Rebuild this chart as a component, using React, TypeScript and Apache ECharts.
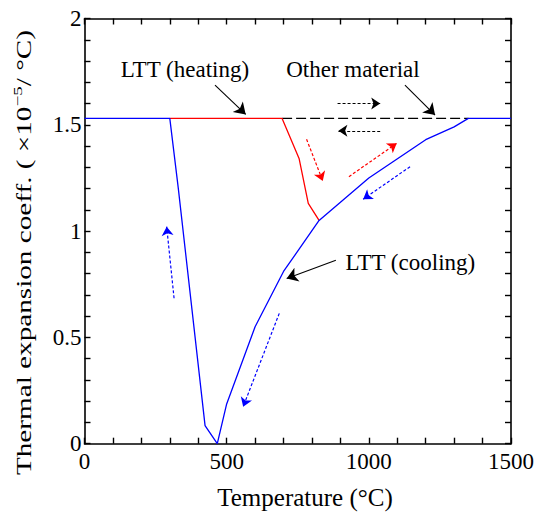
import React, { useEffect, useRef } from "react";
import * as echarts from "echarts";

// Curves (temperature °C, coefficient ×10^-5 /°C)
const coolingX = [0, 300, 330, 424, 467, 500, 600, 700, 825, 1000, 1200, 1300, 1350, 1500];
const coolingY = [1.53, 1.53, 1.2, 0.085, 0, 0.187, 0.55, 0.81, 1.05, 1.25, 1.43, 1.49, 1.53, 1.53];
const heatingX = [300, 695, 755, 787, 825];
const heatingY = [1.53, 1.53, 1.34, 1.13, 1.05];
const otherX = [695, 1350];
const otherY = [1.53, 1.53];

// Annotation arrows [x1, y1, x2, y2] in data units
const solidArrows = [
  [459, 1.687, 567, 1.549],
  [1127, 1.687, 1233, 1.546],
  [884, 0.863, 711, 0.777],
];
const dashedArrows = [
  [890, 1.6, 1040, 1.6],
  [1040, 1.472, 893, 1.472],
  [781, 1.432, 838, 1.236],
  [930, 1.256, 1098, 1.413],
  [1145, 1.303, 980, 1.15],
  [315, 0.684, 289, 1.021],
  [685, 0.613, 558, 0.174],
];
const dashedColors = ["#000000", "#000000", "#ff0000", "#ff0000", "#0000ff", "#0000ff", "#0000ff"];

// Annotation labels
const labelNames = ["LTT (heating)", "Other material", "LTT (cooling)"];
const labelX = [353, 944, 1146];
const labelY = [1.758, 1.758, 0.85];

// Axis titles
const xTitle = "Temperature (°C)";
const yTitleParts = ["Thermal expansion coeff. ( ×10", "−5", "/ °C)"];

const FONT = "Liberation Serif";

const zip = (xs: number[], ys: number[]) => xs.map((x, i) => [x, ys[i]]);

function measure(text: string, size: number): number {
  const ctx = document.createElement("canvas").getContext("2d");
  if (!ctx) return text.length * size * 0.45;
  ctx.font = `${size}px "${FONT}"`;
  return ctx.measureText(text).width;
}

export default function App() {
  const ref = useRef<HTMLDivElement>(null);
  useEffect(() => {
    if (!ref.current) return;
    document.body.style.margin = "0";
    const chart = echarts.init(ref.current, null, { renderer: "svg" });
    const axisCommon = (showLabel: boolean, margin: number) => ({
      axisLine: { show: true, onZero: false, lineStyle: { color: "#000", width: 1.6 } },
      axisTick: { show: true, inside: true, length: 6, lineStyle: { color: "#000", width: 1.4 } },
      minorTick: { show: true, splitNumber: 5, length: 6, lineStyle: { color: "#000", width: 1.4 } },
      splitLine: { show: false },
      minorSplitLine: { show: false },
      axisLabel: showLabel
        ? { show: true, color: "#000", fontSize: 23, fontFamily: FONT, margin, formatter: (v: number) => String(v) }
        : { show: false },
    });
    const xBase = (pos: string, show: boolean) => ({
      type: "value", min: 0, max: 1500, interval: 500, position: pos, ...axisCommon(show, 6),
    });
    const yBase = (pos: string, show: boolean) => ({
      type: "value", min: 0, max: 2, interval: 0.5, position: pos, ...axisCommon(show, 3),
    });

    const txt = (x: number, y: number, text: string, size: number, align: string) => ({
      type: "text",
      x,
      y,
      silent: true,
      style: { text, fontSize: size, fontFamily: FONT, fill: "#000", align, verticalAlign: "middle" },
    });
    const mainSize = 20;
    const supSize = 13;
    const w1 = measure(yTitleParts[0], mainSize);
    const w2 = measure(yTitleParts[1], supSize);
    const w3 = measure(yTitleParts[2], mainSize);
    const start = -(w1 + w2 + w3) / 2;

    const option: any = {
      animation: false,
      backgroundColor: "#ffffff",
      grid: { left: 84.5, top: 18.5, width: 426.5, height: 425.2, containLabel: false },
      xAxis: [xBase("bottom", true), xBase("top", false)],
      yAxis: [yBase("left", true), yBase("right", false)],
      graphic: [
        txt(305, 497, xTitle, 25, "center"),
        {
          type: "group",
          x: 24,
          y: 252.5,
          rotation: Math.PI / 2,
          scaleX: 1.46,
          silent: true,
          children: [
            txt(start, 0, yTitleParts[0], mainSize, "left"),
            txt(start + w1, -6, yTitleParts[1], supSize, "left"),
            txt(start + w1 + w2, 0, yTitleParts[2], mainSize, "left"),
          ],
        },
      ],
      series: [
        {
          type: "line",
          data: zip(otherX, otherY),
          symbol: "none",
          lineStyle: { color: "#000", width: 1.3, type: [10, 4] },
          z: 1,
          silent: true,
        },
        {
          type: "line",
          data: zip(heatingX, heatingY),
          symbol: "none",
          lineStyle: { color: "#ff0000", width: 1.3 },
          z: 2,
          silent: true,
        },
        {
          type: "line",
          data: zip(coolingX, coolingY),
          symbol: "none",
          lineStyle: { color: "#0000ff", width: 1.3 },
          z: 3,
          silent: true,
        },
        {
          type: "lines",
          coordinateSystem: "cartesian2d",
          symbol: ["none", "arrow"],
          symbolSize: [7, 11],
          lineStyle: { color: "#000", width: 1.1, opacity: 1 },
          data: solidArrows.map((a) => ({ coords: [[a[0], a[1]], [a[2], a[3]]] })),
          z: 4,
          silent: true,
        },
        {
          type: "lines",
          coordinateSystem: "cartesian2d",
          symbol: ["none", "arrow"],
          symbolSize: [6, 9],
          lineStyle: { width: 1.2, type: [3, 2], opacity: 1 },
          data: dashedArrows.map((a, i) => ({
            coords: [[a[0], a[1]], [a[2], a[3]]],
            lineStyle: { color: dashedColors[i] },
          })),
          z: 4,
          silent: true,
        },
        {
          type: "scatter",
          data: labelNames.map((n, i) => [labelX[i], labelY[i], n]),
          symbolSize: 1,
          itemStyle: { color: "rgba(0,0,0,0)", opacity: 1 },
          label: {
            show: true,
            position: "inside",
            formatter: (p: any) => p.value[2],
            color: "#000",
            opacity: 1,
            fontSize: 23,
            fontFamily: FONT,
          },
          z: 5,
          silent: true,
        },
      ],
    };
    chart.setOption(option);
    return () => chart.dispose();
  }, []);
  return <div ref={ref} style={{ width: 541, height: 513, background: "#fff" }} />;
}
